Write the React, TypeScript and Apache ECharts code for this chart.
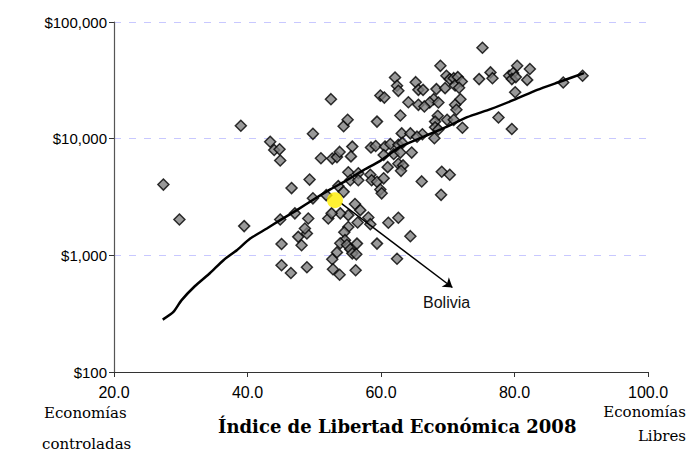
import React, { useEffect, useRef } from "react";
import * as echarts from "echarts";

const freedomIndex: number[] = [
  52.5, 39.0, 49.8, 54.4, 55.0, 59.4, 59.9, 60.5, 62.1, 62.4, 62.6, 64.1, 62.9, 65.2, 65.6, 65.6,
  75.2, 68.9, 80.4, 82.3, 69.8, 70.3, 70.9, 71.5, 71.1, 72.1, 71.7, 74.7, 76.4, 76.7, 79.2, 79.8,
  79.6, 80.2, 81.9, 66.3, 68.3, 69.6, 80.1, 67.9, 67.3, 68.6, 66.5, 71.9, 71.1, 71.3, 68.5, 68.1,
  69.9, 70.9, 77.6, 79.6, 72.2, 68.1, 68.6, 66.2, 68.0, 87.3, 90.2, 63.1, 64.4, 65.4, 64.6, 69.1,
  70.3, 66.1, 69.0, 62.6, 61.1, 64.4, 62.4, 59.4, 43.4, 44.0, 44.8, 44.9, 51.0, 52.7, 53.4, 53.8,
  55.7, 55.5, 58.5, 59.2, 60.6, 61.4, 62.6, 63.2, 61.9, 62.9, 60.4, 61.0, 62.6, 63.3, 63.0, 55.1,
  56.6, 55.4, 56.6, 58.4, 58.6, 59.4, 60.4, 53.6, 54.4, 59.9, 60.1, 56.1, 56.9, 55.1, 53.9, 58.1,
  58.4, 56.5, 55.1, 47.1, 49.1, 47.6, 48.9, 48.6, 48.1, 52.1, 52.6, 54.5, 54.6, 53.9, 54.9, 55.4,
  55.7, 56.4, 56.3, 53.4, 52.7, 52.8, 53.8, 56.2, 46.5, 48.9, 45.1, 45.1, 27.4, 29.8, 39.5, 44.9,
  46.6, 49.3, 49.8, 51.8,
];

const gdpPerCapita: number[] = [
  21800, 12900, 11000, 12800, 14500, 14000, 23400, 22500, 33400, 28400, 25700, 20500, 15800, 30500, 26200, 19500,
  60100, 42100, 42100, 39500, 34600, 32400, 33000, 33700, 28600, 30900, 27300, 32400, 37000, 33000, 34600, 36500,
  32400, 33700, 31900, 26200, 26600, 27100, 25000, 21800, 20400, 20400, 18900, 21800, 19500, 17700, 15700, 14000,
  14500, 14500, 15200, 12100, 12400, 12500, 12000, 10900, 10100, 30300, 34600, 11100, 11100, 10400, 7600, 5200,
  4900, 4300, 3300, 2100, 1900, 1460, 935, 1260, 9400, 8000, 8100, 6500, 6800, 6750, 6950, 7700,
  8550, 7050, 8400, 8650, 8550, 9000, 8850, 9200, 7400, 7600, 7250, 5700, 6100, 5900, 5300, 5150,
  5050, 4400, 4400, 4900, 4400, 4270, 4570, 3920, 3500, 3660, 3400, 2750, 2440, 2210, 2290, 2110,
  1850, 1910, 1750, 2290, 2070, 1440, 1540, 1700, 1220, 2070, 2290, 1580, 1350, 1270, 1230, 1130,
  1040, 1260, 1020, 1060, 926, 760, 681, 745, 706, 790, 822, 1250, 4040, 2030, 1780, 2030,
  3770, 4460, 3080, 3280,
];

const trendX: number[] = [
  27.3, 28.9, 30.1, 32.1, 34.4, 36.4, 38.4, 40.4, 42.9, 44.9, 47.4, 49.9, 52.4, 54.9, 57.4, 59.9,
  62.9, 66.4, 69.9, 72.9, 76.4, 79.9, 83.4, 86.9, 90.4,
];
const trendY: number[] = [
  281, 327, 411, 543, 706, 908, 1107, 1393, 1698, 2004, 2443, 3013, 3673, 4416, 5383, 6457,
  8531, 10400, 12680, 15280, 17910, 21480, 26180, 30900, 36480,
];

const boliviaPoint: number[] = [53.1, 2970];
const arrowStart: number[] = [54.0, 2800];
const arrowEnd: number[] = [70.7, 530];

const xTicks: number[] = [20, 40, 60, 80, 100];

const serif = "'DejaVu Serif'";

export default function App() {
  const ref = useRef<HTMLDivElement>(null);
  useEffect(() => {
    if (!ref.current) return;
    const chart = echarts.init(ref.current, null, { renderer: "svg" });
    const scatterData = freedomIndex.map((x, i) => [x, gdpPerCapita[i]]);
    const trendData = trendX.map((x, i) => [x, trendY[i]]);
    chart.setOption({
      animation: false,
      backgroundColor: "#ffffff",
      grid: { left: 114, right: 49, top: 22, bottom: 97 },
      xAxis: {
        type: "value",
        min: xTicks[0],
        max: xTicks[xTicks.length - 1],
        interval: 20,
        axisLine: { show: true, lineStyle: { color: "#333", width: 1.2 } },
        axisTick: { show: true, inside: false, length: 5, lineStyle: { color: "#333" } },
        splitLine: { show: false },
        axisLabel: {
          margin: 12,
          color: "#000",
          fontFamily: "Liberation Sans",
          fontSize: 16,
          formatter: (v: number) => v.toFixed(1),
        },
      },
      yAxis: {
        type: "log",
        logBase: 10,
        min: 100,
        max: 100000,
        axisLine: { show: true, lineStyle: { color: "#555", width: 1.2 } },
        axisTick: { show: true, inside: false, length: 5, lineStyle: { color: "#333" } },
        minorTick: { show: false },
        splitLine: { show: true, lineStyle: { color: "#c8c8ff", type: [7, 8], width: 1 } },
        axisLabel: {
          margin: 7,
          color: "#000",
          fontFamily: "Liberation Sans",
          fontSize: 15,
          formatter: (v: number) => "$" + Math.round(v).toLocaleString("en-US"),
        },
      },
      series: [
        {
          type: "scatter",
          data: scatterData,
          symbol: "diamond",
          symbolSize: 11,
          itemStyle: { color: "#808080", borderColor: "#000", borderWidth: 1.5 },
          z: 2,
        },
        {
          type: "line",
          data: trendData,
          symbol: "none",
          smooth: 0.2,
          lineStyle: { color: "#000", width: 2.5 },
          z: 3,
        },
        {
          type: "scatter",
          data: [boliviaPoint],
          symbol: "circle",
          symbolSize: 16,
          itemStyle: { color: "#ffee00" },
          z: 5,
          markLine: {
            silent: true,
            symbol: ["none", "arrow"],
            symbolSize: 9,
            label: { show: false },
            lineStyle: { color: "#000", width: 1.5, type: "solid", curveness: -0.08 },
            data: [[{ coord: arrowStart }, { coord: arrowEnd }]],
          },
        },
      ],
      graphic: [
        {
          type: "text",
          left: 423,
          top: 294,
          style: { text: "Bolivia", font: "16px 'Liberation Sans'", fill: "#111" },
        },
        {
          type: "text",
          left: 44,
          top: 405,
          style: { text: "Economías", font: `15px ${serif}`, fill: "#000" },
        },
        {
          type: "text",
          left: 42,
          top: 436,
          style: { text: "controladas", font: `15px ${serif}`, fill: "#000" },
        },
        {
          type: "text",
          left: 218,
          top: 417,
          style: { text: "Índice de Libertad Económica 2008", font: `bold 18px ${serif}`, fill: "#000" },
        },
        {
          type: "text",
          right: 11,
          top: 404,
          style: { text: "Economías", font: `15px ${serif}`, fill: "#000", align: "right" },
        },
        {
          type: "text",
          right: 11,
          top: 428,
          style: { text: "Libres", font: `15px ${serif}`, fill: "#000", align: "right" },
        },
      ],
    });
    return () => chart.dispose();
  }, []);
  return (
    <div
      ref={ref}
      style={{ position: "fixed", left: 0, top: 0, width: 697, height: 469, background: "#fff" }}
    />
  );
}
